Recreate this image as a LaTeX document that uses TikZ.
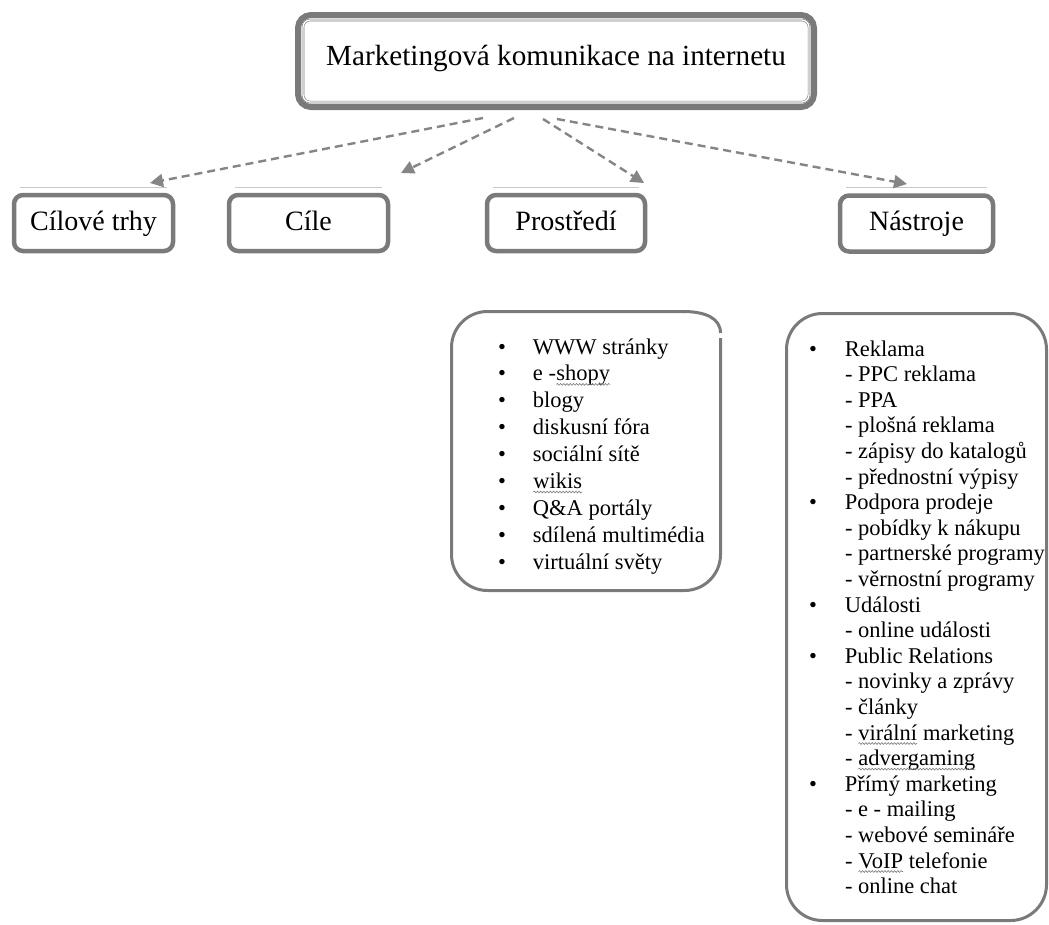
\documentclass[tikz,border=0pt]{standalone}
\usepackage{fontspec}
\setmainfont{Liberation Serif}
\usetikzlibrary{arrows.meta,decorations.pathmorphing}
\definecolor{bord}{HTML}{7A7A7A}
\definecolor{arr}{HTML}{858585}
\definecolor{shade}{HTML}{C8C8C8}
\newcommand\wv[1]{\tikz[baseline=(w.base)]{\node[inner sep=0pt,outer sep=0pt,draw=none](w){#1};\draw[bord,line width=0.6pt,decorate,decoration={snake,amplitude=0.9pt,segment length=3.2pt}]([yshift=-3.5pt]w.base west)--([yshift=-3.5pt]w.base east);}}
\tikzset{
  topbox/.style={draw=bord,line width=6pt,rounded corners=13pt,fill=white,inner sep=0pt,
    minimum width=516pt,minimum height=92pt,text height=19pt,text depth=11pt,
    font=\fontsize{29.2}{34}\selectfont},
  catbox/.style={draw=bord,line width=4.5pt,rounded corners=9pt,fill=white,inner sep=0pt,
    minimum height=56pt,text height=19pt,text depth=5pt,font=\fontsize{28}{34}\selectfont},
  shadeline/.style={draw=shade,line width=1.2pt},
  conn/.style={draw=arr,line width=2.4pt,dash pattern=on 8pt off 5pt,-{Triangle[length=13pt,width=13pt]}},
  listbox/.style={draw=bord,line width=3pt,rounded corners=36pt},
  listtext/.style={inner sep=0pt,outer sep=0pt,anchor=base west,align=left}
}
\begin{document}
\begin{tikzpicture}[x=1pt,y=-1pt]
\path[use as bounding box,fill=white] (0,0) rectangle (1049,924);

% top box
\node[topbox] (top) at (556,61) {Marketingová komunikace na internetu};
\draw[bord,line width=0.6pt,double=white,double distance=1.3pt,rounded corners=7pt]
  ([shift={(8pt,8pt)}]top.south west) rectangle ([shift={(-8pt,-8pt)}]top.north east);

% category boxes
\node[catbox,minimum width=159pt] (c1) at (93.5,223) {Cílové trhy};
\node[catbox,minimum width=159pt] (c2) at (308.5,223) {Cíle};
\node[catbox,minimum width=158pt] (c3) at (566,223) {Prostředí};
\node[catbox,minimum width=153pt] (c4) at (916.5,223.5) {Nástroje};
\foreach \n in {c1,c2,c3,c4}{
  \draw[shadeline] ([shift={(8pt,5.5pt)}]\n.north west) -- ([shift={(-8pt,5.5pt)}]\n.north east);
}

% connectors
\coordinate (s1) at ([shift={(-73pt,-8pt)}]top.south);
\coordinate (s2) at ([shift={(-42pt,-8pt)}]top.south);
\coordinate (s3) at ([shift={(-13pt,-9pt)}]top.south);
\coordinate (s4) at ([shift={(1pt,-9pt)}]top.south);
\coordinate (t1) at (150,183);
\coordinate (t2) at (401,173);
\coordinate (t3) at (644,183);
\coordinate (t4) at (907,184);
\draw[conn] (s1) -- (t1);
\draw[conn] (s2) -- (t2);
\draw[conn] (s3) -- (t3);
\draw[conn] (s4) -- (t4);

% list box for Prostredi
\draw[listbox] (720.5,338) -- (720.5,590.5) -- (451.5,590.5) -- (451.5,311.5) -- (684,311.5);
\draw[bord,line width=3pt] (683,311.5) .. controls (705,311.5) and (720.5,318) .. (720.5,333);
\node[listtext] (l1) at (498,354) {\fontsize{22.5}{26.9}\selectfont
\begin{tabular}[t]{@{}p{35pt}@{}l@{}}
•&WWW stránky\\
•&e -\wv{shopy}\\
•&blogy\\
•&diskusní fóra\\
•&sociální sítě\\
•&\wv{wikis}\\
•&Q\&A portály\\
•&sdílená multimédia\\
•&virtuální světy
\end{tabular}};

% list box for Nastroje
\draw[listbox] (786.5,313.5) rectangle (1046.5,920.5);
\node[listtext] (l2) at (809,356) {\fontsize{22.5}{25.6}\selectfont
\begin{tabular}[t]{@{}p{36pt}@{}l@{}}
•&Reklama\\
&- PPC reklama\\
&- PPA\\
&- plošná reklama\\
&- zápisy do katalogů\\
&- přednostní výpisy\\
•&Podpora prodeje\\
&- pobídky k nákupu\\
&- partnerské programy\\
&- věrnostní programy\\
•&Události\\
&- online události\\
•&Public Relations\\
&- novinky a zprávy\\
&- články\\
&- \wv{virální} marketing\\
&- \wv{advergaming}\\
•&Přímý marketing\\
&- e - mailing\\
&- webové semináře\\
&- \wv{VoIP} telefonie\\
&- online chat
\end{tabular}};
\end{tikzpicture}
\end{document}
